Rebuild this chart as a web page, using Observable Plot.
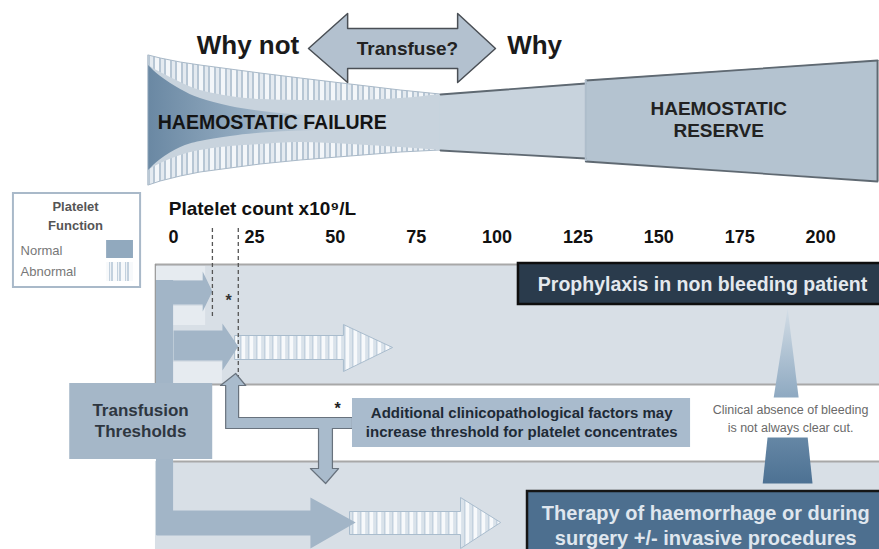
<!DOCTYPE html>
<html><head><meta charset="utf-8">
<script src="https://cdn.jsdelivr.net/npm/d3@7"></script>
<script src="https://cdn.jsdelivr.net/npm/@observablehq/plot@0.6"></script>
<style>body{margin:0;background:#fff}#chart{width:879px;height:549px;overflow:hidden}</style>
</head><body>
<svg width="0" height="0" style="position:absolute"><defs>
<pattern id="hatch" patternUnits="userSpaceOnUse" width="11" height="10">
<rect width="11" height="10" fill="#b7c6d4"/><rect x="1" width="4" height="10" fill="#f3f6f9"/><rect x="7" width="3" height="10" fill="#e4eaf0"/></pattern>
<pattern id="hatchArrow" patternUnits="userSpaceOnUse" width="8" height="10">
<rect width="8" height="10" fill="#c3d1de"/><rect x="1" width="4" height="10" fill="#f7f9fb"/><rect x="6" width="1" height="10" fill="#eef2f6"/></pattern>
<linearGradient id="failGrad" x1="0" x2="1" y1="0" y2="0"><stop offset="0" stop-color="#6a88a3"/><stop offset="0.55" stop-color="#93abc0"/><stop offset="1" stop-color="#c8d3dd"/></linearGradient>
<linearGradient id="spikeGrad" x1="0" x2="0" y1="0" y2="1"><stop offset="0" stop-color="#d3dde6"/><stop offset="1" stop-color="#8ea9c1"/></linearGradient>
<linearGradient id="trapGrad" x1="0" x2="0" y1="0" y2="1"><stop offset="0" stop-color="#6587a5"/><stop offset="1" stop-color="#4d7193"/></linearGradient>
</defs></svg>
<div id="chart"></div>
<script>
// ---- data (x in platelet count x10^9/L, y in layout rows) ----
const ticks = [0, 25, 50, 75, 100, 125, 150, 175, 200];
const tickLabels = ["0", "25", "50", "75", "100", "125", "150", "175", "200"];
const thresholds = [12, 20];
const thresholdEnds = [317, 383];
const axisTitle = "Platelet count x10\u2079/L";

const funnelX      = [-7.7, -4.0, 2.2, 8.3, 17.6, 26.9, 39.3, 54.7, 70.2, 82.5];
const funnelTop    = [55, 58, 62, 65, 69, 73, 78, 84, 90, 94];
const funnelBottom = [185, 181, 176, 172, 168, 164, 160, 156, 152, 150];
const innerTop     = [65, 72, 82, 90, 96, 99, 100, 100, 98, 94];
const innerBottom  = [170, 163, 155, 150, 146, 144, 142, 144, 147, 150];
const failX      = [-7.7, -4.0, 2.2, 8.3, 17.6, 30.0, 45.4];
const failTop    = [65, 76, 89, 98, 106, 112, 116];
const failBottom = [170, 159, 147, 141, 136, 132, 130];
const midX = [82.5, 127.4], midTop = [94, 83], midBottom = [150, 158];
const reserveX = [127.4, 217.6], reserveTop = [80, 60], reserveBottom = [161, 181];

const headerWords = ["Why not", "Transfuse?", "Why"];
const zoneLabels = ["HAEMOSTATIC FAILURE", "HAEMOSTATIC", "RESERVE"];
const legendTitle = ["Platelet", "Function"];
const legendItems = ["Normal", "Abnormal"];
const thresholdLabel = ["Transfusion", "Thresholds"];
const factorLabel = ["Additional clinicopathological factors may", "increase threshold for platelet concentrates"];
const clinicalLabel = ["Clinical absence of bleeding", "is not always clear cut."];
const prophylaxisLabel = "Prophylaxis in non bleeding patient";
const therapyLabel = ["Therapy of haemorrhage or during", "surgery +/- invasive procedures"];

const transfuseArrow = [[41.7,48],[53.8,13],[53.8,28],[87.8,28],[87.8,13],[99.5,48],[87.8,82],[87.8,68],[53.8,68],[53.8,82]];
const arrowProph1 = [[-5.3,280],[9.0,280],[9.0,271],[12,291],[9.0,311],[9.0,304],[-5.3,304]];
const arrowProph2 = [[0,330],[15.1,330],[15.1,323],[20,346],[15.1,370],[15.1,360],[0,360]];
const arrowProph2Abn = [[19,335],[52.5,335],[52.5,324],[67.7,347],[52.5,371],[52.5,359],[19,359]];
const arrowTherapy = [[-5.3,510],[42.3,510],[42.3,497],[56.3,522],[42.3,548],[42.3,535],[-5.3,535]];
const arrowTherapyAbn = [[54.5,511],[88.7,511],[88.7,497],[101.1,522],[88.7,548],[88.7,534],[54.5,534]];
const connector = [[19.2,373],[22.3,385],[20.1,385],[20.1,417],[55.3,417],[55.3,428],[49.1,428],[49.1,468],[51.0,468],[47.0,483],[42.3,468],[44.8,468],[44.8,428],[16.1,428],[16.1,385],[14.5,385]];
const spike = [[189.8,308],[193.2,397],[185.5,397]];
const trapezoid = [[183.6,437],[196.0,437],[197.5,483],[182.1,483]];

// ---- helpers ----
const zip3 = (xs, a, b) => xs.map((x, i) => ({x, y1: a[i], y2: b[i]}));
const poly = (pts, o) => Plot.line(pts, {x: d => d[0], y: d => d[1], curve: "linear-closed", ...o});
const F = "Liberation Sans, Arial, Helvetica, sans-serif";
const txt = (data, o) => Plot.text(data, {fontFamily: F, ...o});

const chart = Plot.plot({
  width: 879, height: 549, margin: 0,
  x: {domain: [-53.5, 218.2], range: [0, 879], axis: null},
  y: {domain: [0, 549], range: [0, 549], axis: null},
  style: {fontFamily: F, background: "white"},
  marks: [
    // funnel
    Plot.areaY(zip3(funnelX, funnelTop, funnelBottom), {x: "x", y1: "y1", y2: "y2", fill: "url(#hatch)", stroke: "#a9b9c8", strokeWidth: 1}),
    Plot.areaY(zip3(funnelX, innerTop, innerBottom), {x: "x", y1: "y1", y2: "y2", fill: "#c8d3dd", curve: "natural"}),
    Plot.areaY(zip3(failX, failTop, failBottom), {x: "x", y1: "y1", y2: "y2", fill: "url(#failGrad)", curve: "natural"}),
    Plot.areaY(zip3(midX, midTop, midBottom), {x: "x", y1: "y1", y2: "y2", fill: "#c8d3dd"}),
    Plot.areaY(zip3(reserveX, reserveTop, reserveBottom), {x: "x", y1: "y1", y2: "y2", fill: "#b4c3d0"}),
    Plot.line(zip3(midX, midTop, midBottom), {x: "x", y: "y1", stroke: "#5f6972", strokeWidth: 1.8}),
    Plot.line(zip3(midX, midTop, midBottom), {x: "x", y: "y2", stroke: "#5f6972", strokeWidth: 1.8}),
    Plot.line(zip3(reserveX, reserveTop, reserveBottom), {x: "x", y: "y1", stroke: "#5f6972", strokeWidth: 1.8}),
    Plot.line(zip3(reserveX, reserveTop, reserveBottom), {x: "x", y: "y2", stroke: "#5f6972", strokeWidth: 1.8}),
    Plot.ruleX([reserveX[1]], {y1: reserveTop[1], y2: reserveBottom[1], stroke: "#5f6972", strokeWidth: 2}),
    Plot.ruleX([reserveX[0]], {y1: reserveTop[0], y2: reserveBottom[0], stroke: "#aebdcb", strokeWidth: 2}),
    txt([zoneLabels[0]], {x: -4.9, y: 122, textAnchor: "start", fontSize: 19.5, fontWeight: "bold", fill: "#141414"}),
    txt([zoneLabels[1]], {x: 168.5, y: 108, fontSize: 19, fontWeight: "bold", fill: "#222"}),
    txt([zoneLabels[2]], {x: 168.5, y: 130, fontSize: 19, fontWeight: "bold", fill: "#222"}),
    // header
    poly(transfuseArrow, {fill: "#b3c1cf", stroke: "#4a4f55", strokeWidth: 1.5}),
    txt([headerWords[1]], {x: 72.3, y: 48, fontSize: 19, fontWeight: "bold", fill: "#222"}),
    txt([headerWords[0]], {x: 23.0, y: 45, fontSize: 26, fontWeight: "bold", fill: "#1a1a1a"}),
    txt([headerWords[2]], {x: 111.6, y: 45, fontSize: 26, fontWeight: "bold", fill: "#1a1a1a"}),
    // legend
    Plot.rect([0], {x1: -49.5, x2: -10.2, y1: 193, y2: 287, fill: "white", stroke: "#a9b9c9", strokeWidth: 2}),
    txt([legendTitle[0]], {x: -30.3, y: 206, fontSize: 13, fontWeight: "bold", fill: "#555"}),
    txt([legendTitle[1]], {x: -30.3, y: 225, fontSize: 13, fontWeight: "bold", fill: "#555"}),
    txt([legendItems[0]], {x: -47.3, y: 250, textAnchor: "start", fontSize: 13, fill: "#777"}),
    txt([legendItems[1]], {x: -47.3, y: 271, textAnchor: "start", fontSize: 13, fill: "#777"}),
    Plot.rect([0], {x1: -20.7, x2: -12.4, y1: 240, y2: 258, fill: "#91a9be"}),
    Plot.rect([0], {x1: -20.7, x2: -12.4, y1: 262, y2: 281, fill: "url(#hatchArrow)"}),
    // axis
    txt([axisTitle], {x: -1.5, y: 208, textAnchor: "start", fontSize: 19, fontWeight: "bold", fill: "#111"}),
    txt(ticks, {x: d => d, y: 237, text: (d, i) => tickLabels[i], fontSize: 18, fontWeight: "bold", fill: "#111"}),
    // bands
    Plot.rect([0], {x1: -5.6, x2: 218.2, y1: 264, y2: 384, fill: "#d8dfe6"}),
    Plot.rect([0], {x1: -5.6, x2: 218.2, y1: 461, y2: 549, fill: "#d8dfe6"}),
    Plot.ruleY([264], {x1: -5.6, x2: 218.2, stroke: "#a8a8a8", strokeWidth: 2}),
    Plot.ruleY([384, 461], {x1: 0, x2: 218.2, stroke: "#a8a8a8", strokeWidth: 2}),
    Plot.ruleX([-5.6], {y1: 264, y2: 384, stroke: "#999", strokeWidth: 1.5}),
    Plot.rect([0], {x1: -5.3, x2: 9.9, y1: 266, y2: 280, fill: "#e6ebf0"}),
    Plot.rect([0], {x1: 0, x2: 9.9, y1: 306, y2: 325, fill: "#e6ebf0"}),
    Plot.rect([0], {x1: 0, x2: 15.1, y1: 362, y2: 383, fill: "#e6ebf0"}),
    // arrows
    Plot.rect([0], {x1: -5.3, x2: 0, y1: 280, y2: 535, fill: "#a2b5c7"}),
    poly(arrowProph1, {fill: "#a2b5c7"}),
    poly(arrowProph2Abn, {fill: "url(#hatchArrow)", stroke: "#a9bccd", strokeWidth: 1}),
    poly(arrowProph2, {fill: "#a2b5c7"}),
    poly(arrowTherapyAbn, {fill: "url(#hatchArrow)", stroke: "#a9bccd", strokeWidth: 1}),
    poly(arrowTherapy, {fill: "#a2b5c7"}),
    Plot.ruleX(thresholds, {y1: 228, y2: (d, i) => thresholdEnds[i], stroke: "#555", strokeWidth: 1.3, strokeDasharray: "4,3"}),
    txt(["*"], {x: 17.0, y: 300, fontSize: 16, fontWeight: "bold", fill: "#333"}),
    // transfusion thresholds
    Plot.rect([0], {x1: -32.1, x2: 12.1, y1: 383, y2: 459, fill: "#a5b7c8"}),
    txt([thresholdLabel[0]], {x: -10.2, y: 410, fontSize: 17, fontWeight: "bold", fill: "#2e3640"}),
    txt([thresholdLabel[1]], {x: -10.2, y: 431, fontSize: 17, fontWeight: "bold", fill: "#2e3640"}),
    // additional factors
    poly(connector, {fill: "#a9bbcc", stroke: "#68727d", strokeWidth: 1.2}),
    Plot.rect([0], {x1: 55.3, x2: 159.8, y1: 398, y2: 447, fill: "#a9bbcd"}),
    txt(["*"], {x: 50.7, y: 408, fontSize: 16, fontWeight: "bold", fill: "#222"}),
    txt([factorLabel[0]], {x: 107.6, y: 413, fontSize: 15, fontWeight: "bold", fill: "#1e2a36"}),
    txt([factorLabel[1]], {x: 107.6, y: 432, fontSize: 15, fontWeight: "bold", fill: "#1e2a36"}),
    // prophylaxis / therapy
    Plot.rect([0], {x1: 106.6, x2: 219, y1: 263, y2: 304, fill: "#2a3b4c", stroke: "#0e0e0e", strokeWidth: 2.5}),
    txt([prophylaxisLabel], {x: 163.5, y: 284, fontSize: 19.5, fontWeight: "bold", fill: "#e4e9ee"}),
    poly(spike, {fill: "url(#spikeGrad)"}),
    txt([clinicalLabel[0]], {x: 190.7, y: 409, fontSize: 12.5, fill: "#6a6a6a"}),
    txt([clinicalLabel[1]], {x: 190.7, y: 427, fontSize: 12.5, fill: "#6a6a6a"}),
    poly(trapezoid, {fill: "url(#trapGrad)"}),
    Plot.rect([0], {x1: 109.4, x2: 219, y1: 491, y2: 552, fill: "#4d6f8f", stroke: "#151515", strokeWidth: 2.5}),
    txt([therapyLabel[0]], {x: 164.5, y: 513, fontSize: 20, fontWeight: "bold", fill: "#dfe6ee"}),
    txt([therapyLabel[1]], {x: 164.5, y: 538, fontSize: 20, fontWeight: "bold", fill: "#dfe6ee"})
  ]
});
document.getElementById("chart").appendChild(chart);
</script>
</body></html>
